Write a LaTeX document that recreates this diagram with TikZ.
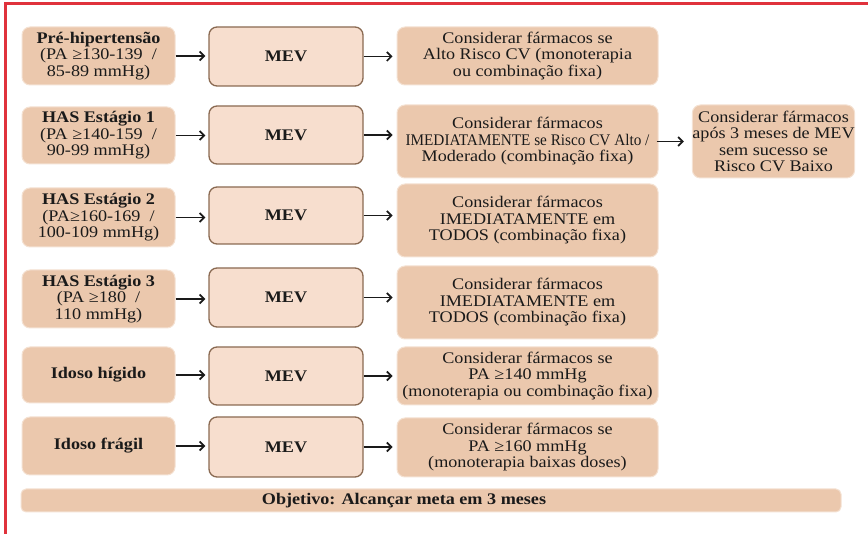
\documentclass[tikz,border=0pt]{standalone}
\usepackage{fontspec}
\setmainfont[FakeStretch=1.12]{Liberation Serif}
\usepackage{graphicx}
\usetikzlibrary{arrows.meta}
\definecolor{tanfill}{HTML}{EBC8AD}
\definecolor{mevfill}{HTML}{F7DECE}
\definecolor{mevline}{HTML}{8A6A52}
\definecolor{framered}{HTML}{E0323C}
\definecolor{txt}{HTML}{1A1A1A}
\begin{document}
\begin{tikzpicture}[x=1pt,y=-1pt,
 base/.style={rounded corners=8pt, align=center, inner sep=0pt, text=txt, font=\fontsize{16.2}{16.5}\selectfont},
 tanbox/.style={base, fill=tanfill, draw=tanfill!55!white, line width=1pt},
 mevbox/.style={base, fill=mevfill, draw=mevline, line width=1.3pt, font=\fontsize{16.2}{16.5}\selectfont\bfseries, minimum width=154pt},
 leftbox/.style={tanbox, minimum width=153pt},
 rightbox/.style={tanbox, minimum width=261pt},
 arr/.style={-{Straight Barb[length=4.5pt,width=9pt,line width=1.7pt]}, line width=1.7pt, draw=txt},
]
\useasboundingbox (0,0) rectangle (868,534);
\draw[framered, line width=2.6pt] (5.3,534) -- (5.3,3.5) -- (868,3.5);

% left column
\node[leftbox, minimum height=58pt] (L1) at (98.5,56) {\textbf{Pré-hipertensão}\\(PA ≥130-139 \ /\\85-89 mmHg)};
\node[leftbox, minimum height=57pt] (L2) at (98.5,135.5) {\textbf{HAS Estágio 1}\\(PA ≥140-159 \ /\\90-99 mmHg)};
\node[leftbox, minimum height=59pt] (L3) at (98.5,217.5) {\textbf{HAS Estágio 2}\\(PA≥160-169 \ /\\100-109 mmHg)};
\node[leftbox, minimum height=58pt] (L4) at (98.5,299) {\textbf{HAS Estágio 3}\\(PA ≥180 \ /\\110 mmHg)};
\node[leftbox, minimum height=56pt] (L5) at (98.5,375) {\textbf{Idoso hígido}};
\node[leftbox, minimum height=58pt] (L6) at (98.5,446) {\textbf{Idoso frágil}};

% MEV column
\node[mevbox, minimum height=59pt] (M1) at (286,56.5) {MEV};
\node[mevbox, minimum height=58pt] (M2) at (286,135) {MEV};
\node[mevbox, minimum height=57pt] (M3) at (286,215.5) {MEV};
\node[mevbox, minimum height=59pt] (M4) at (286,297.5) {MEV};
\node[mevbox, minimum height=58pt] (M5) at (286,376) {MEV};
\node[mevbox, minimum height=60pt] (M6) at (286,447) {MEV};

% right column
\node[rightbox, minimum height=58pt] (R1) at (527.5,56) {Considerar fármacos se\\Alto Risco CV (monoterapia\\ou combinação fixa)};
\node[rightbox, minimum height=73pt] (R2) at (527.5,141.5) {Considerar fármacos\\\scalebox{0.84}[1]{IMEDIATAMENTE se Risco CV Alto /}\\Moderado (combinação fixa)};
\node[rightbox, minimum height=73pt] (R3) at (527.5,220.5) {Considerar fármacos\\IMEDIATAMENTE em\\TODOS (combinação fixa)};
\node[rightbox, minimum height=73pt] (R4) at (527.5,302.5) {Considerar fármacos\\IMEDIATAMENTE em\\TODOS (combinação fixa)};
\node[rightbox, minimum height=58pt] (R5) at (527.5,376) {Considerar fármacos se\\PA ≥140 mmHg\\(monoterapia ou combinação fixa)};
\node[rightbox, minimum height=59pt] (R6) at (527.5,447.5) {Considerar fármacos se\\PA ≥160 mmHg\\(monoterapia baixas doses)};

\node[tanbox, minimum width=161pt, minimum height=73pt] (F2) at (773.5,141.5) {Considerar fármacos\\após 3 meses de MEV\\sem sucesso se\\Risco CV Baixo};

\node[tanbox, minimum width=820pt, minimum height=23pt, rounded corners=5pt] (bar) at (431,500.5) {\textbf{Objetivo: Alcançar meta em 3 meses}\hspace*{54pt}};

% arrows
\foreach \i in {1,...,6}{
  \draw[arr, shorten >=3pt] (L\i.east) -- (L\i.east -| M\i.west);
  \draw[arr, shorten >=4pt] (M\i.east) -- (M\i.east -| R\i.west);
}
\draw[arr, shorten >=8pt, shorten <=-2pt] (R2.east) -- (F2.west);
\end{tikzpicture}
\end{document}
